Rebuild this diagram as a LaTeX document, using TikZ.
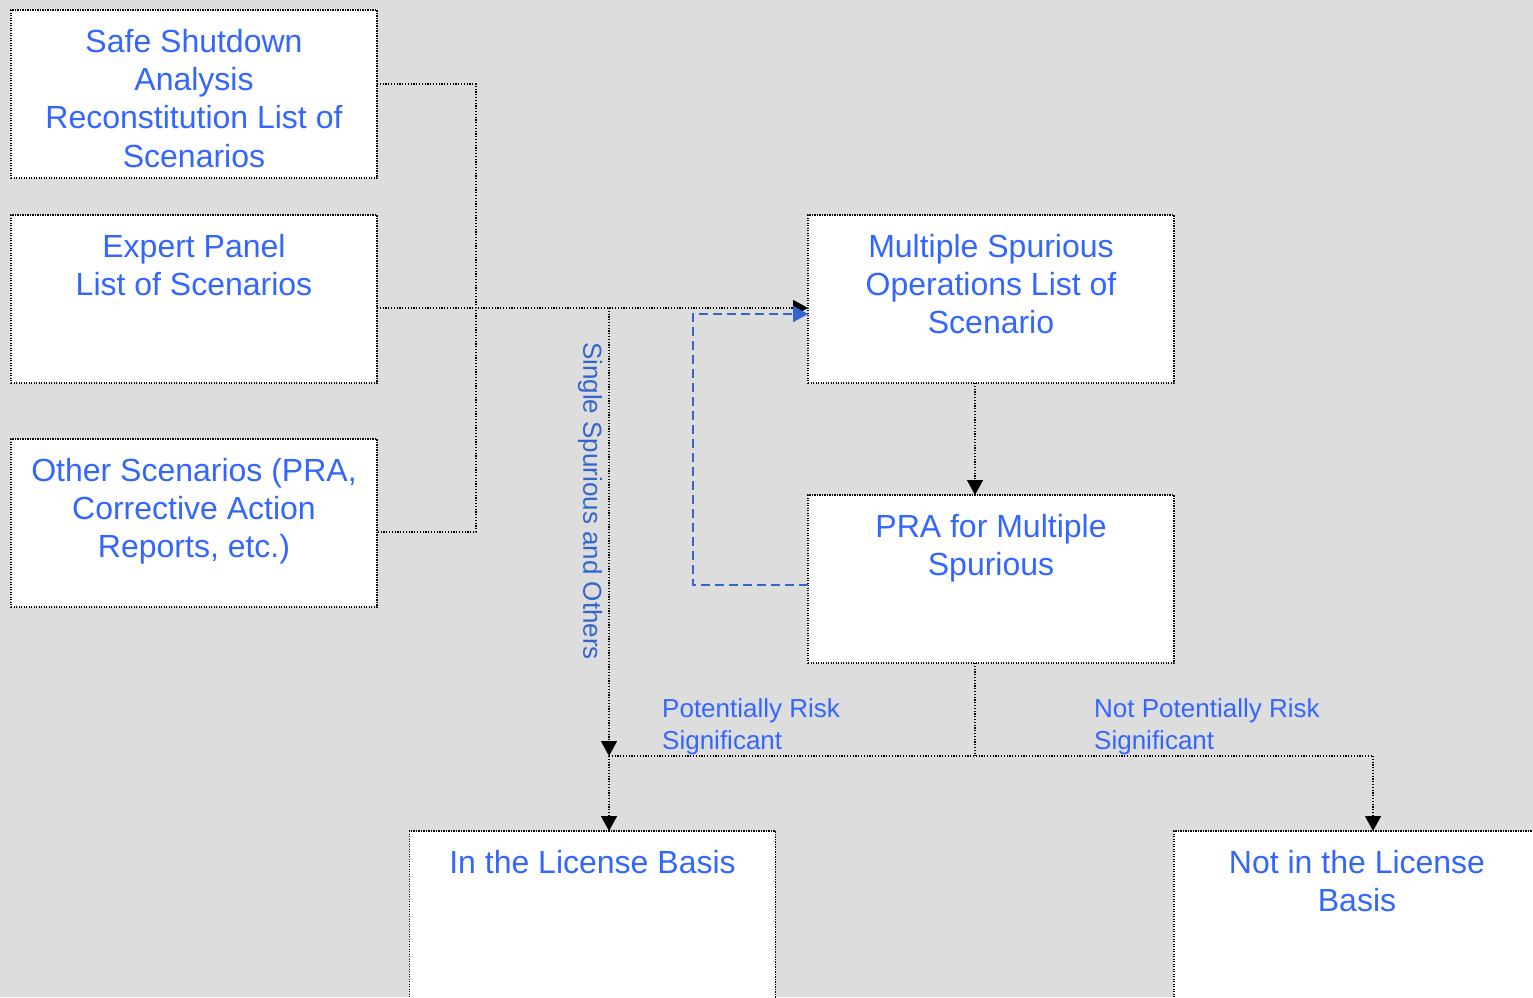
\documentclass[tikz,border=0pt]{standalone}
\usepackage{fontspec}
\setmainfont{Liberation Sans}
\usetikzlibrary{arrows.meta}
\definecolor{bgc}{HTML}{DDDDDD}
\definecolor{txtblue}{HTML}{3366FF}
\definecolor{dblue}{HTML}{3366CC}
\tikzset{
  box/.style={draw=black, fill=white, line width=1.8pt, dash pattern=on 1.2pt off 1.3pt,
    minimum width=366pt, minimum height=168pt, inner sep=0pt, outer sep=0pt},
  boxtext/.style={anchor=north, inner sep=0pt, align=center, text=txtblue,
    font=\fontsize{32}{38.4}\selectfont},
  lbl/.style={anchor=north west, inner sep=0pt, align=left, text=txtblue,
    font=\fontsize{26}{32}\selectfont},
  conn/.style={draw=black, line width=1.3pt, dash pattern=on 1.2pt off 1.6pt},
  tip/.style={-{Triangle[length=15pt,width=16pt]}},
  dconn/.style={draw=dblue, line width=2pt, dash pattern=on 9pt off 5pt,
    -{Triangle[length=15pt,width=16pt,fill=dblue]}}
}
\begin{document}
\begin{tikzpicture}[x=1pt,y=-1pt]
\fill[bgc] (0,0) rectangle (1533,997);
\useasboundingbox (0,0) rectangle (1533,997);

% boxes
\node[box] (A) at (194,94) {};
\node[box] (B) at (194,299) {};
\node[box] (C) at (194,523) {};
\node[box] (D) at (991,299) {};
\node[box] (E) at (991,579) {};
\node[box] (F) at (592.5,915) {};
\node[box] (G) at (1357,915) {};

% box texts
\node[boxtext] (tA) at ([yshift=-15pt]A.north) {\strut Safe Shutdown\\Analysis\\Reconstitution List of\\Scenarios};
\node[boxtext] (tB) at ([yshift=-15pt]B.north) {\strut Expert Panel\\List of Scenarios};
\node[boxtext] (tC) at ([yshift=-15pt]C.north) {\strut Other Scenarios (PRA,\\Corrective Action\\Reports, etc.)};
\node[boxtext] (tD) at ([yshift=-15pt]D.north) {\strut Multiple Spurious\\Operations List of\\Scenario};
\node[boxtext] (tE) at ([yshift=-15pt]E.north) {\strut PRA for Multiple\\Spurious};
\node[boxtext] (tF) at ([yshift=-15pt]F.north) {\strut In the License Basis};
\node[boxtext] (tG) at ([yshift=-15pt]G.north) {\strut Not in the License\\Basis};

% junction coordinates
\coordinate (jA) at (476,84);
\coordinate (jC) at (476,532);
\coordinate (jS) at (609,308);
\coordinate (jM) at (609,756);
\coordinate (jE) at (975,756);
\coordinate (jR) at (1373,756);
\coordinate (jD1) at (693,585);
\coordinate (jD2) at (693,314);

% connectors
\draw[conn] ([yshift=10pt]A.east) -- (jA) -- (jC) -- ([yshift=-9pt]C.east);
\draw[conn,tip] ([yshift=-9pt]B.east) -- ([yshift=-9pt]D.west);
\draw[conn,tip] (jS) -- (jM);
\draw[conn,tip] (jM) -- (jM |- F.north);
\draw[conn,tip] ([xshift=-16pt]D.south) -- ([xshift=-16pt]E.north);
\draw[conn] ([xshift=-16pt]E.south) -- (jE);
\draw[conn] (jM) -- (jR);
\draw[conn,tip] (jR) -- (jR |- G.north);
\draw[dconn] ([yshift=-6pt]E.west) -- (jD1) -- (jD2) -- ([yshift=-15pt]D.west);

% labels
\node[anchor=center, rotate=-90, inner sep=0pt, text=dblue,
  font=\fontsize{26}{32}\selectfont] (lS) at (590,501) {Single Spurious and Others};
\node[lbl] (lP) at (662,694.6) {\strut Potentially Risk\\Significant};
\node[lbl] (lN) at (1094,694.6) {\strut Not Potentially Risk\\Significant};
\end{tikzpicture}
\end{document}
